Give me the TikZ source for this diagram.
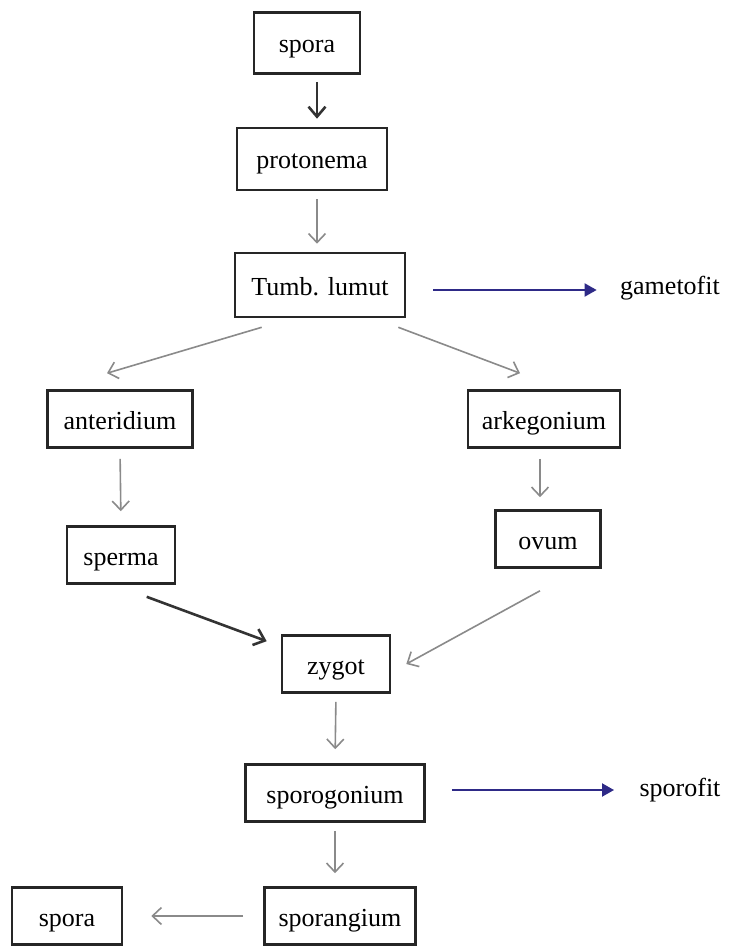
\documentclass[tikz,border=0pt]{standalone}
\usepackage{fontspec}
\setmainfont{Liberation Serif}
\usetikzlibrary{arrows.meta,positioning,calc}
\definecolor{navy}{HTML}{2E2A87}
\definecolor{linegray}{HTML}{8A8A8A}

\begin{document}
\begin{tikzpicture}[x=1pt,y=-1pt,
  box/.style={draw=black!85,line width=2.6pt,minimum height=57pt,inner xsep=8pt,text height=22pt,text depth=2pt,font=\fontsize{26}{28}\selectfont},
  lbl/.style={font=\fontsize{26}{28}\selectfont},
  arr/.style={draw=linegray,line width=1.6pt,-{Straight Barb[length=9pt,width=17pt]}},
  darr/.style={draw=black!80,line width=2.6pt,-{Straight Barb[length=10pt,width=17pt]}},
  barr/.style={draw=navy,line width=2pt,-{Triangle[length=12pt,width=13pt]}}]
  \useasboundingbox (0,0) rectangle (729,949);
  % gametophyte part
  \node[box,minimum width=106pt,minimum height=61pt] (spA) at (307,43) {spora};
  \node[box,minimum width=150pt,minimum height=62pt] (prot) at (312,159) {protonema};
  \node[box,minimum width=170pt,minimum height=64pt] (tumb) at (320,285) {Tumb. lumut};
  \node[lbl] (gam) at (670,288) {gametofit};
  \node[box,minimum width=145pt] (ant) at (120,419) {anteridium};
  \node[box,minimum width=152pt] (ark) at (544,419) {arkegonium};
  \node[box,minimum width=108pt] (sper) at (121,555) {sperma};
  \node[box,minimum width=105pt] (ovum) at (548,539) {ovum};
  % sporophyte part
  \node[box,minimum width=108pt] (zyg) at (336,664) {zygot};
  \node[box,minimum width=179pt] (sprg) at (335,793) {sporogonium};
  \node[lbl] (spf) at (680,790) {sporofit};
  \node[box,minimum width=151pt] (sprn) at (340,916) {sporangium};
  \node[box,minimum width=110pt] (spB) at (67,916) {spora};

  \draw[darr,shorten <=7pt,shorten >=8pt] (spA.south -| 317,0) -- (prot.north -| 317,0);
  \draw[arr,shorten <=8pt,shorten >=8pt] (prot.south -| 317,0) -- (tumb.north -| 317,0);
  \draw[barr,shorten <=27pt,shorten >=20pt] (tumb.east |- 0,290) -- (gam.west |- 0,290);
  \draw[arr] ([xshift=28pt,yshift=-9pt]tumb.south west) -- ([xshift=-13pt,yshift=16pt]ant.north);
  \draw[arr] ([xshift=-8pt,yshift=-9pt]tumb.south east) -- ([xshift=-24pt,yshift=16pt]ark.north);
  \draw[arr,shorten <=10pt,shorten >=14pt] (ant.south) -- (sper.north);
  \draw[arr,shorten <=10pt,shorten >=12pt] (ark.south -| 540,0) -- (ovum.north -| 540,0);
  \draw[darr] ([xshift=81pt,yshift=-12pt]sper.south west) -- ([xshift=-14pt,yshift=-7pt]zyg.north west);
  \draw[arr] ([xshift=-8pt,yshift=-22pt]ovum.south) -- ([xshift=15pt]zyg.east);
  \draw[arr,shorten <=8pt,shorten >=14pt] (zyg.south) -- (sprg.north);
  \draw[barr,shorten <=26pt,shorten >=22pt] (sprg.east |- 0,790) -- (spf.west |- 0,790);
  \draw[arr,shorten <=8pt,shorten >=13pt] (sprg.south) -- (sprn.north -| sprg.south);
  \draw[arr,shorten <=20pt,shorten >=28pt] (sprn.west) -- (spB.east);
\end{tikzpicture}
\end{document}
